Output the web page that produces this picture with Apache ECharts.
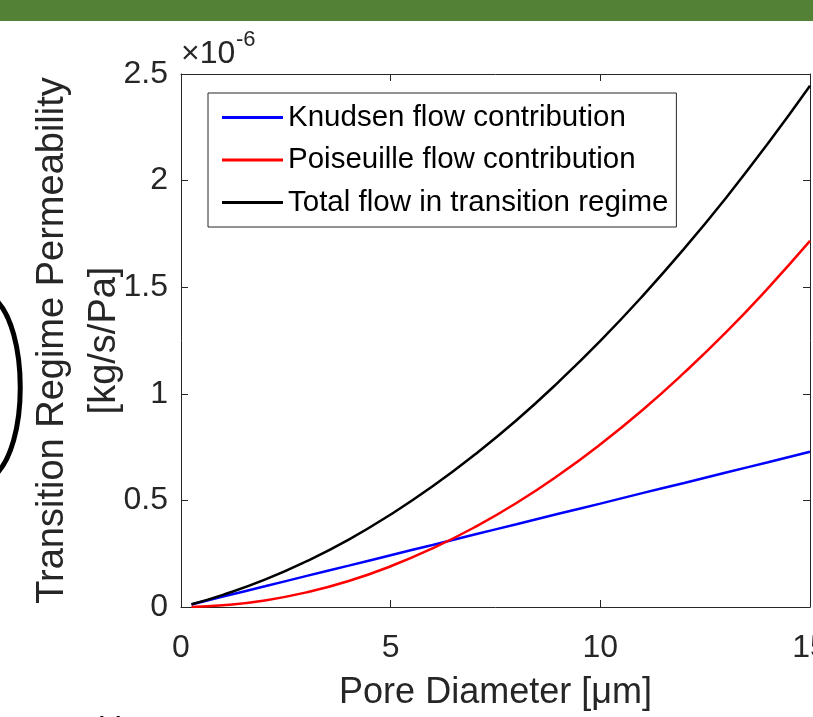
<!DOCTYPE html>
<html>
<head>
<meta charset="utf-8">
<script src="https://cdn.jsdelivr.net/npm/echarts@6/dist/echarts.min.js"></script>
<style>
html,body{margin:0;padding:0;background:#fff;}
#chart{width:813px;height:717px;}
</style>
</head>
<body>
<div id="chart"></div>
<script>
// Pore diameter [µm]
const poreDiameter = [0.25, 1, 2, 3, 4, 5, 6, 7, 8, 9, 10, 11, 12, 13, 14, 15];
// Permeability values in units of 1e-6 kg/s/Pa
const knudsen    = [0.012, 0.049, 0.097, 0.146, 0.194, 0.243, 0.291, 0.340, 0.388, 0.437, 0.485, 0.534, 0.582, 0.631, 0.679, 0.728];
const poiseuille = [0.0005, 0.008, 0.031, 0.069, 0.122, 0.191, 0.275, 0.374, 0.488, 0.618, 0.763, 0.923, 1.099, 1.289, 1.496, 1.717];
const total      = [0.013, 0.057, 0.128, 0.215, 0.316, 0.434, 0.566, 0.714, 0.876, 1.055, 1.248, 1.457, 1.681, 1.920, 2.175, 2.445];
const seriesNames = ['Knudsen flow contribution', 'Poiseuille flow contribution', 'Total flow in transition regime'];
const xTicks = [0, 5, 10, 15];
const yTicks = [0, 0.5, 1, 1.5, 2, 2.5];

const FONT = "'Liberation Sans', Arial, Helvetica, sans-serif";
const AX = '#262626';
const pairs = (ys) => poreDiameter.map((x, i) => [x, ys[i]]);

const chart = echarts.init(document.getElementById('chart'), null, {renderer: 'canvas'});

const baseX = {
  type: 'value', min: xTicks[0], max: xTicks[xTicks.length - 1], interval: 5,
  axisLine: {show: true, onZero: false, lineStyle: {color: AX, width: 1}},
  axisTick: {show: true, inside: true, length: 7, lineStyle: {color: AX}},
  splitLine: {show: false}
};
const baseY = {
  type: 'value', min: yTicks[0], max: yTicks[yTicks.length - 1], interval: 0.5,
  axisLine: {show: true, onZero: false, lineStyle: {color: AX, width: 1}},
  axisTick: {show: true, inside: true, length: 7, lineStyle: {color: AX}},
  splitLine: {show: false}
};

chart.setOption({
  animation: false,
  backgroundColor: '#ffffff',
  grid: {left: 181, top: 74, right: 3, bottom: 110, containLabel: false, outerBoundsMode: 'none'},
  legend: {
    orient: 'vertical', left: 208, top: 93,
    data: seriesNames,
    icon: 'rect',
    itemWidth: 61, itemHeight: 3, itemGap: 8.5,
    padding: [7.5, 8, 7.5, 14],
    borderColor: AX, borderWidth: 1, backgroundColor: '#fff',
    textStyle: {fontFamily: FONT, fontSize: 29.5, color: '#000', lineHeight: 34}
  },
  xAxis: [
    Object.assign({}, baseX, {
      position: 'bottom',
      axisLabel: {show: true, fontFamily: FONT, fontSize: 32, color: AX, margin: 25, lineHeight: 32},
      name: 'Pore Diameter [\u03bcm]', nameLocation: 'middle', nameGap: 66, nameMoveOverlap: false,
      nameTextStyle: {fontFamily: FONT, fontSize: 36, color: AX, lineHeight: 40}
    }),
    Object.assign({}, baseX, {position: 'top', axisLabel: {show: false}})
  ],
  yAxis: [
    Object.assign({}, baseY, {
      position: 'left',
      axisLabel: {show: true, fontFamily: FONT, fontSize: 32, color: AX, margin: 13},
      name: 'Transition Regime Permeability\n[kg/s/Pa]', nameLocation: 'middle', nameGap: 50,
      nameMoveOverlap: false,
      nameRotate: 90,
      nameTextStyle: {fontFamily: FONT, fontSize: 38, color: AX, lineHeight: 52, align: 'center'}
    }),
    Object.assign({}, baseY, {position: 'right', axisLabel: {show: false}})
  ],
  series: [
    {name: seriesNames[0], type: 'line', data: pairs(knudsen), symbol: 'none', smooth: true,
     lineStyle: {color: '#0000ff', width: 2.5}, itemStyle: {color: '#0000ff'}},
    {name: seriesNames[1], type: 'line', data: pairs(poiseuille), symbol: 'none', smooth: true,
     lineStyle: {color: '#ff0000', width: 2.5}, itemStyle: {color: '#ff0000'}},
    {name: seriesNames[2], type: 'line', data: pairs(total), symbol: 'none', smooth: true,
     lineStyle: {color: '#000000', width: 2.5}, itemStyle: {color: '#000000'}}
  ],
  graphic: [
    {type: 'rect', left: 0, top: 0, shape: {width: 813, height: 21}, style: {fill: '#538135'}},
    {type: 'text', left: 181, top: 38, style: {text: '\u00d710', font: "32px 'Liberation Sans', Arial", fill: AX}},
    {type: 'text', left: 236, top: 29, style: {text: '-6', font: "22px 'Liberation Sans', Arial", fill: AX}},
    {type: 'bezierCurve', shape: {x1: -6, y1: 298, cpx1: 29, cpy1: 328, cpx2: 29, cpy2: 447, x2: -6, y2: 476},
     style: {stroke: '#000', lineWidth: 5, fill: null}},
    {type: 'text', left: 100, top: 713, style: {text: 'V', font: "30px 'Liberation Sans', Arial", fill: '#000'}}
  ]
});
</script>
</body>
</html>
